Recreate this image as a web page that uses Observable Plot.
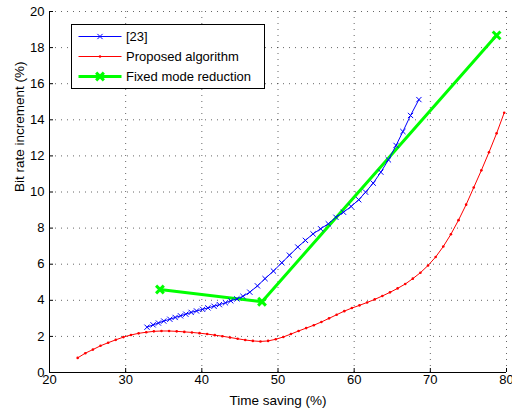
<!DOCTYPE html>
<html><head><meta charset="utf-8">
<script src="https://cdn.jsdelivr.net/npm/d3@7"></script>
<script src="https://cdn.jsdelivr.net/npm/@observablehq/plot@0.6"></script>
<style>
body{margin:0;background:#fff;}
svg{font-family:"Liberation Sans",Arial,Helvetica,sans-serif;}
</style>
</head><body><div id="chart"></div>
<script>
// ---- data ----
const xTicks = [20, 30, 40, 50, 60, 70, 80];
const yTicks = [0, 2, 4, 6, 8, 10, 12, 14, 16, 18, 20];
const seriesNames = ["[23]", "Proposed algorithm", "Fixed mode reduction"];
const seriesColors = ["#0000ff", "#ff0000", "#00ff00"];
const xLabel = "Time saving (%)";
const yLabel = "Bit rate increment (%)";

const refX = [32.8, 33.6, 34.3, 35.0, 35.8, 36.5, 37.2, 37.9, 38.6, 39.3,
  40.1, 40.8, 41.6, 42.3, 43.1, 43.8, 44.6, 45.4, 46.3, 47.3,
  48.3, 49.4, 50.5, 51.5, 52.6, 53.6, 54.6, 55.6, 56.6, 57.6,
  58.6, 59.6, 60.6, 61.5, 62.5, 63.5, 64.5, 65.5, 66.4, 67.4, 68.5];
const refY = [2.51, 2.64, 2.74, 2.85, 2.95, 3.05, 3.14, 3.23, 3.33, 3.41,
  3.50, 3.58, 3.67, 3.76, 3.86, 3.97, 4.08, 4.22, 4.45, 4.80,
  5.20, 5.62, 6.08, 6.50, 6.95, 7.32, 7.68, 7.96, 8.24, 8.60,
  8.88, 9.20, 9.57, 9.99, 10.49, 11.10, 11.78, 12.58, 13.35, 14.24, 15.12];

const propX = [23.7, 24.7, 25.7, 26.7, 27.7, 28.7, 29.7, 30.7, 31.7, 32.7,
  33.7, 34.7, 35.7, 36.7, 37.7, 38.7, 39.7, 40.7, 41.7, 42.7,
  43.7, 44.7, 45.7, 46.7, 47.7, 48.7, 49.7, 50.7, 51.7, 52.7,
  53.7, 54.7, 55.7, 56.7, 57.7, 58.7, 59.7, 60.7, 61.7, 62.7,
  63.7, 64.7, 65.7, 66.7, 67.7, 68.7, 69.7, 70.7, 71.7, 72.7,
  73.7, 74.7, 75.7, 76.7, 77.7, 78.7, 79.7];
const propY = [0.81, 1.07, 1.27, 1.48, 1.65, 1.81, 1.96, 2.08, 2.17, 2.23,
  2.28, 2.30, 2.30, 2.28, 2.25, 2.22, 2.18, 2.13, 2.07, 2.01,
  1.94, 1.87, 1.80, 1.75, 1.72, 1.75, 1.84, 1.97, 2.13, 2.30,
  2.46, 2.62, 2.80, 3.00, 3.20, 3.40, 3.57, 3.72, 3.88, 4.05,
  4.24, 4.44, 4.66, 4.90, 5.20, 5.53, 5.93, 6.40, 6.98, 7.66,
  8.44, 9.30, 10.25, 11.20, 12.20, 13.25, 14.39];

const fixedX = [34.5, 47.9, 78.7];
const fixedY = [4.6, 3.92, 18.68];

// ---- layout ----
const W = 512, H = 412, mL = 49, mR = 6, mT = 11, mB = 40;
const plotW = W - mL - mR, plotH = H - mT - mB;

const ref = refX.map((x, i) => ({x, y: refY[i]}));
const prop = propX.map((x, i) => ({x, y: propY[i]}));
const fixed = fixedX.map((x, i) => ({x, y: fixedY[i]}));

const gridStyle = {stroke: "#000", strokeOpacity: 0.6, strokeDasharray: "1,5"};

const plot = Plot.plot({
  width: W, height: H,
  marginLeft: mL, marginRight: mR, marginTop: mT, marginBottom: mB,
  style: {fontFamily: '"Liberation Sans",Arial,Helvetica,sans-serif', fontSize: "13px", background: "#fff", color: "#000"},
  x: {domain: [20, 80]},
  y: {domain: [0, 20]},
  marks: [
    Plot.gridX(xTicks, gridStyle),
    Plot.gridY(yTicks, gridStyle),
    Plot.ruleY([0], {stroke: "#000"}),
    Plot.ruleX([20], {stroke: "#000"}),
    Plot.tickX(xTicks, {x: d => d, stroke: "#000", insetTop: plotH - 4}),
    Plot.tickY(yTicks, {y: d => d, stroke: "#000", insetRight: plotW - 4}),
    Plot.axisX(xTicks, {tickSize: 0, tickPadding: 2, label: null, fontSize: 13}),
    Plot.axisY(yTicks, {tickSize: 0, tickPadding: 5, label: null, fontSize: 13}),
    Plot.text([xLabel], {frameAnchor: "bottom", dy: 32, lineAnchor: "bottom", fontSize: 13.5, fill: "#000"}),
    Plot.text([yLabel], {frameAnchor: "left", dx: -26, rotate: -90, lineAnchor: "bottom", fontSize: 13.5, fill: "#000"}),
    // Fixed mode reduction
    Plot.line(fixed, {x: "x", y: "y", stroke: seriesColors[2], strokeWidth: 3}),
    Plot.dot(fixed, {x: "x", y: "y", symbol: "times", r: 3.6, stroke: seriesColors[2], strokeWidth: 3}),
    // [23]
    Plot.line(ref, {x: "x", y: "y", stroke: seriesColors[0], strokeWidth: 1}),
    Plot.dot(ref, {x: "x", y: "y", symbol: "times", r: 2.5, stroke: seriesColors[0], strokeWidth: 1}),
    // Proposed
    Plot.line(prop, {x: "x", y: "y", stroke: seriesColors[1], strokeWidth: 1}),
    Plot.dot(prop, {x: "x", y: "y", r: 1.3, fill: seriesColors[1], stroke: "none"})
  ]
});

document.getElementById("chart").appendChild(plot);

// ---- legend (inside plot area, top-left) ----
const svg = d3.select(plot);
const lx = mL + 22.5, ly = mT + 13.5, lw = 193, lh = 64;
const lg = svg.append("g")
  .attr("transform", `translate(${lx},${ly})`)
  .attr("text-anchor", "start");
lg.append("rect").attr("x", 0).attr("y", 0).attr("width", lw).attr("height", lh)
  .style("fill", "#fff").style("stroke", "#000").style("stroke-width", "1px");
const rowY = [12, 32, 52];
const lineW = [1, 1, 3];
seriesNames.forEach((name, i) => {
  const y = rowY[i];
  lg.append("line").attr("x1", 7).attr("x2", 50).attr("y1", y).attr("y2", y)
    .style("stroke", seriesColors[i]).style("stroke-width", lineW[i] + "px");
  if (i === 0) {
    lg.append("path").attr("transform", `translate(28.5,${y})`)
      .attr("d", d3.symbol(d3.symbolTimes, 2.5 * 2.5 * Math.PI)())
      .style("fill", "none").style("stroke", seriesColors[i]).style("stroke-width", "1px");
  } else if (i === 1) {
    lg.append("circle").attr("cx", 28.5).attr("cy", y).attr("r", 1.3).style("fill", seriesColors[i]);
  } else {
    lg.append("path").attr("transform", `translate(28.5,${y})`)
      .attr("d", d3.symbol(d3.symbolTimes, 3.6 * 3.6 * Math.PI)())
      .style("fill", "none").style("stroke", seriesColors[i]).style("stroke-width", "3px");
  }
  lg.append("text").attr("x", 54.5).attr("y", y + 4.5)
    .style("font-size", "13px").style("fill", "#000").style("text-anchor", "start").text(name);
});
</script>
</body></html>
